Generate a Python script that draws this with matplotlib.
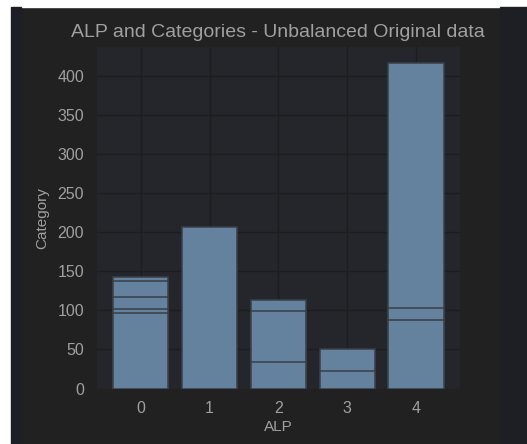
import matplotlib
matplotlib.use("Agg")
import matplotlib.pyplot as plt
import pandas as pd
from matplotlib.patches import Rectangle

# One row per (ALP, Category) bar
alp = [0, 0, 0, 0, 0, 1, 2, 2, 2, 3, 3, 4, 4, 4]
category = [143, 137, 117, 102, 97, 207, 113, 99, 34, 51, 22, 416, 103, 88]

df = pd.DataFrame({"ALP": alp, "Category": category})
# draw tallest first so the shorter bars leave their edges visible
df = df.sort_values("Category", ascending=False)

plt.rcParams["font.family"] = ["Liberation Sans", "DejaVu Sans"]
text_color = "#a0a0a0"

fig = plt.figure(figsize=(5.27, 4.44), dpi=100, facecolor="#212121")

# notebook frame around the output
fig.patches.append(Rectangle((0, 0), 11 / 527, 1, transform=fig.transFigure,
                             color="white", zorder=-10))
fig.patches.append(Rectangle((0, 1 - 7 / 444), 1, 7 / 444, transform=fig.transFigure,
                             color="white", zorder=-10))
fig.patches.append(Rectangle((11 / 527, 0), 10 / 527, 1 - 7 / 444, transform=fig.transFigure,
                             color="#1e1f24", zorder=-9))
fig.patches.append(Rectangle((500 / 527, 0), 27 / 527, 1 - 7 / 444, transform=fig.transFigure,
                             color="#1e1f24", zorder=-9))

ax = fig.add_axes([0.1835, 0.125, 0.6894, 0.7698])
ax.set_facecolor("#25262b")

ax.bar(df["ALP"], df["Category"], width=0.8, color="#64829e",
       edgecolor="#3a3f47", linewidth=1.1, zorder=3)

ax.set_title("ALP and Categories - Unbalanced Original data",
             color=text_color, fontsize=14, pad=7)
ax.set_xlabel("ALP", color=text_color, fontsize=11, labelpad=3)
ax.set_ylabel("Category", color=text_color, fontsize=11, labelpad=6)

ax.set_xticks(range(5))
ax.set_yticks(range(0, 401, 50))
ax.tick_params(colors=text_color, labelsize=11.5, length=0, pad=9)
ax.grid(True, color="#1c1d20", linewidth=1, zorder=0)
for s in ax.spines.values():
    s.set_visible(False)

fig.savefig("out.png", dpi=100, facecolor=fig.get_facecolor())
